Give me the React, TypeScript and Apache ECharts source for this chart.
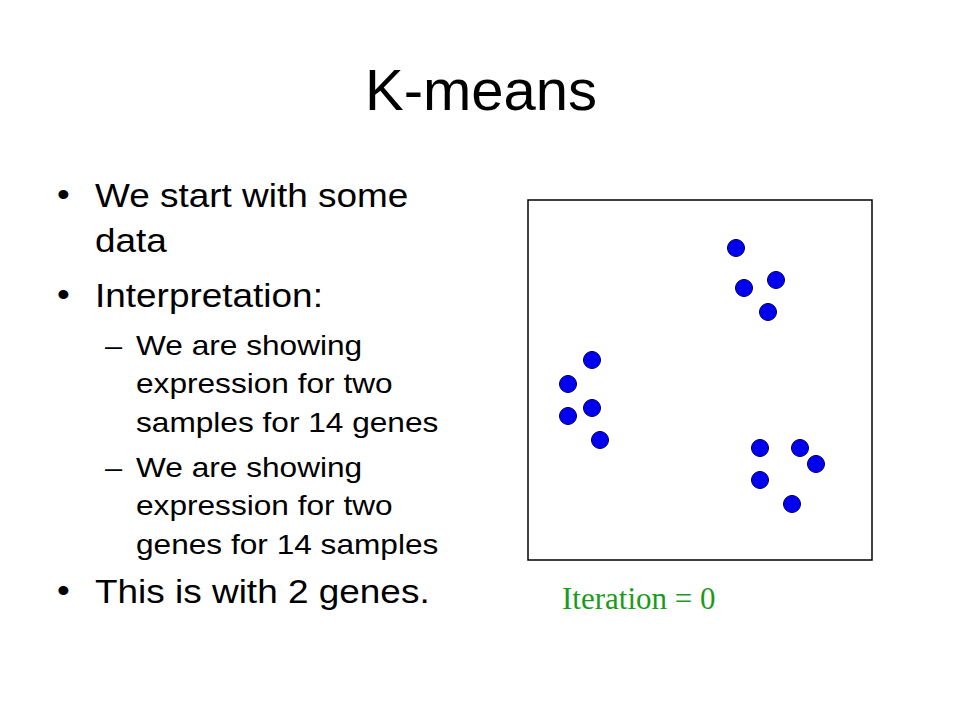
import React, { useEffect, useRef } from "react";
import * as echarts from "echarts";

// Gene expression points (arbitrary units, 0..43 horizontally, 0..45 vertically)
const geneX: number[] = [26, 27, 31, 30, 8, 5, 8, 5, 9, 29, 34, 36, 29, 33];
const geneY: number[] = [39, 34, 35, 31, 25, 22, 19, 18, 15, 14, 14, 12, 10, 7];

const titleText = "K-means";
const bulletLines: { text: string; y: number; bullet: boolean }[] = [
  { text: "We start with some", y: 195, bullet: true },
  { text: "data", y: 240, bullet: false },
  { text: "Interpretation:", y: 295, bullet: true },
  { text: "This is with 2 genes.", y: 591, bullet: true },
];
const subLines: { text: string; y: number; dash: boolean }[] = [
  { text: "We are showing", y: 345, dash: true },
  { text: "expression for two", y: 383, dash: false },
  { text: "samples for 14 genes", y: 422, dash: false },
  { text: "We are showing", y: 467, dash: true },
  { text: "expression for two", y: 505, dash: false },
  { text: "genes for 14 samples", y: 544, dash: false },
];
const iterationLabel = "Iteration = 0";

export default function App() {
  const ref = useRef<HTMLDivElement>(null);

  useEffect(() => {
    if (!ref.current) return;
    const chart = echarts.init(ref.current, null, { renderer: "svg" });
    const sans = "'Liberation Sans', Arial, sans-serif";
    const graphics: any[] = [
      {
        type: "text",
        x: 481,
        y: 89,
        style: {
          text: titleText,
          fill: "#000",
          font: `58px ${sans}`,
          align: "center",
          verticalAlign: "middle",
        },
      },
    ];
    bulletLines.forEach((l) => {
      if (l.bullet) {
        graphics.push({
          type: "text",
          x: 57,
          y: l.y,
          scaleX: 1.1,
          style: { text: "•", fill: "#000", font: `33px ${sans}`, align: "left", verticalAlign: "middle" },
        });
      }
      graphics.push({
        type: "text",
        x: 95,
        y: l.y,
        scaleX: 1.12,
        style: { text: l.text, fill: "#000", font: `33px ${sans}`, align: "left", verticalAlign: "middle" },
      });
    });
    subLines.forEach((l) => {
      if (l.dash) {
        graphics.push({
          type: "text",
          x: 105,
          y: l.y,
          scaleX: 1.1,
          style: { text: "–", fill: "#000", font: `28px ${sans}`, align: "left", verticalAlign: "middle" },
        });
      }
      graphics.push({
        type: "text",
        x: 136,
        y: l.y,
        scaleX: 1.13,
        style: { text: l.text, fill: "#000", font: `28px ${sans}`, align: "left", verticalAlign: "middle" },
      });
    });
    graphics.push({
      type: "text",
      x: 562,
      y: 598,
      style: {
        text: iterationLabel,
        fill: "#1b9a1b",
        font: "31px 'Liberation Serif', 'Times New Roman', serif",
        align: "left",
        verticalAlign: "middle",
      },
    });

    chart.setOption({
      animation: false,
      backgroundColor: "#fff",
      grid: {
        left: 528,
        top: 200,
        width: 344,
        height: 360,
        show: true,
        borderColor: "#000",
        borderWidth: 1.5,
        backgroundColor: "transparent",
      },
      xAxis: {
        type: "value",
        min: 0,
        max: 43,
        show: false,
        splitLine: { show: false },
      },
      yAxis: {
        type: "value",
        min: 0,
        max: 45,
        show: false,
        splitLine: { show: false },
      },
      series: [
        {
          type: "scatter",
          symbol: "circle",
          symbolSize: 17,
          data: geneX.map((x, i) => [x, geneY[i]]),
          itemStyle: { color: "#0000ee", borderColor: "#000070", borderWidth: 1, opacity: 1 },
          emphasis: { disabled: true },
        },
      ],
      graphic: graphics,
    });
    return () => chart.dispose();
  }, []);

  return (
    <div
      ref={ref}
      style={{ position: "fixed", left: 0, top: 0, width: 960, height: 720, background: "#fff" }}
    />
  );
}
